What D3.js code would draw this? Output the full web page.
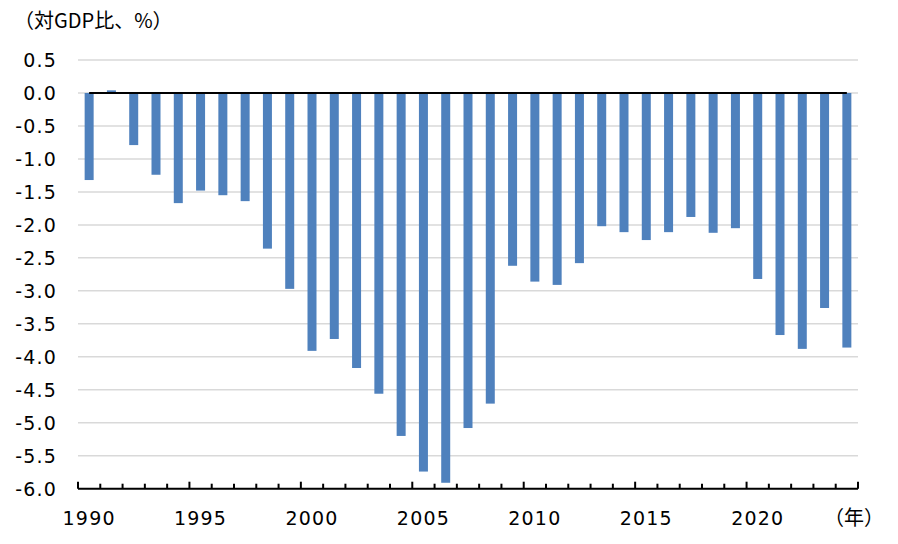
<!DOCTYPE html>
<html><head><meta charset="utf-8">
<script src="https://cdn.jsdelivr.net/npm/d3@7"></script>
<style>body{margin:0;background:#fff;}svg{display:block;}</style>
</head><body>
<svg id="c" width="898" height="544"></svg>
<script>
const years = ["1990","1991","1992","1993","1994","1995","1996","1997","1998","1999",
  "2000","2001","2002","2003","2004","2005","2006","2007","2008","2009",
  "2010","2011","2012","2013","2014","2015","2016","2017","2018","2019",
  "2020","2021","2022","2023","2024"];
const values = [-1.32, 0.04, -0.79, -1.24, -1.67, -1.48, -1.55, -1.64, -2.36, -2.97,
  -3.91, -3.73, -4.17, -4.56, -5.20, -5.74, -5.91, -5.08, -4.71, -2.62,
  -2.86, -2.91, -2.58, -2.02, -2.11, -2.23, -2.11, -1.88, -2.12, -2.05,
  -2.82, -3.67, -3.88, -3.26, -3.86];
const xTickLabels = ["1990","1995","2000","2005","2010","2015","2020"];
const yTickValues = [0.5, 0.0, -0.5, -1.0, -1.5, -2.0, -2.5, -3.0, -3.5, -4.0, -4.5, -5.0, -5.5, -6.0];
const yTitle = "（対GDP比、%）";
const xUnit = "（年）";

const svg = d3.select("#c");
const numFont = "'DejaVu Sans', Verdana, sans-serif";
const cjkFont = "'Noto Sans CJK JP', 'Noto Sans', sans-serif";

const x = d3.scaleBand().domain(years).range([78, 858]).paddingInner(0).paddingOuter(0);
const y = d3.scaleLinear().domain([-6, 0.5]).range([488.7, 60]);
const bw = x.bandwidth();
const barW = 9;

// gridlines
svg.append("g").selectAll("line").data(yTickValues.filter(v => v > -6)).join("line")
  .attr("x1", 78).attr("x2", 858)
  .attr("y1", d => y(d)).attr("y2", d => y(d))
  .attr("stroke", "#d9d9d9").attr("stroke-width", 1.5);

// bars
svg.append("g").selectAll("rect").data(years).join("rect")
  .attr("x", (d) => x(d) + (bw - barW) / 2)
  .attr("width", barW)
  .attr("y", (d, i) => y(Math.max(0, values[i])))
  .attr("height", (d, i) => Math.abs(y(values[i]) - y(0)))
  .attr("fill", "#4f81bd");

// zero line
svg.append("line")
  .attr("x1", x(years[0]) + bw / 2).attr("x2", x(years[years.length - 1]) + bw / 2)
  .attr("y1", y(0)).attr("y2", y(0))
  .attr("stroke", "#000").attr("stroke-width", 2);

// bottom axis
const axisY = y(-6);
svg.append("line").attr("x1", 78).attr("x2", 858).attr("y1", axisY).attr("y2", axisY)
  .attr("stroke", "#000").attr("stroke-width", 2);
const tickPos = years.map(d => x(d)).concat([x.range()[1]]);
svg.append("g").selectAll("line").data(tickPos).join("line")
  .attr("x1", d => d).attr("x2", d => d)
  .attr("y1", axisY).attr("y2", (d, i) => axisY - (i % 5 === 0 ? 7 : 5))
  .attr("stroke", "#000").attr("stroke-width", 2);

// x labels
svg.append("g").selectAll("text").data(xTickLabels).join("text")
  .attr("x", d => x(d) + bw / 2).attr("y", 525)
  .attr("text-anchor", "middle")
  .attr("font-family", numFont).attr("font-size", 19).attr("letter-spacing", 1.2)
  .attr("fill", "#000").text(d => d);

svg.append("text").attr("x", 854).attr("y", 525)
  .attr("text-anchor", "middle")
  .attr("font-family", cjkFont).attr("font-size", 20).attr("fill", "#000")
  .text(xUnit);

// y labels
svg.append("g").selectAll("text").data(yTickValues).join("text")
  .attr("x", 57).attr("y", d => y(d)).attr("dy", "0.36em")
  .attr("text-anchor", "end")
  .attr("font-family", numFont).attr("font-size", 19).attr("letter-spacing", 1.2)
  .attr("fill", "#000").text(d => d.toFixed(1));

// title
svg.append("text").attr("x", 14).attr("y", 28)
  .attr("font-family", cjkFont).attr("font-size", 20).attr("fill", "#000")
  .text(yTitle);
</script>
</body></html>
